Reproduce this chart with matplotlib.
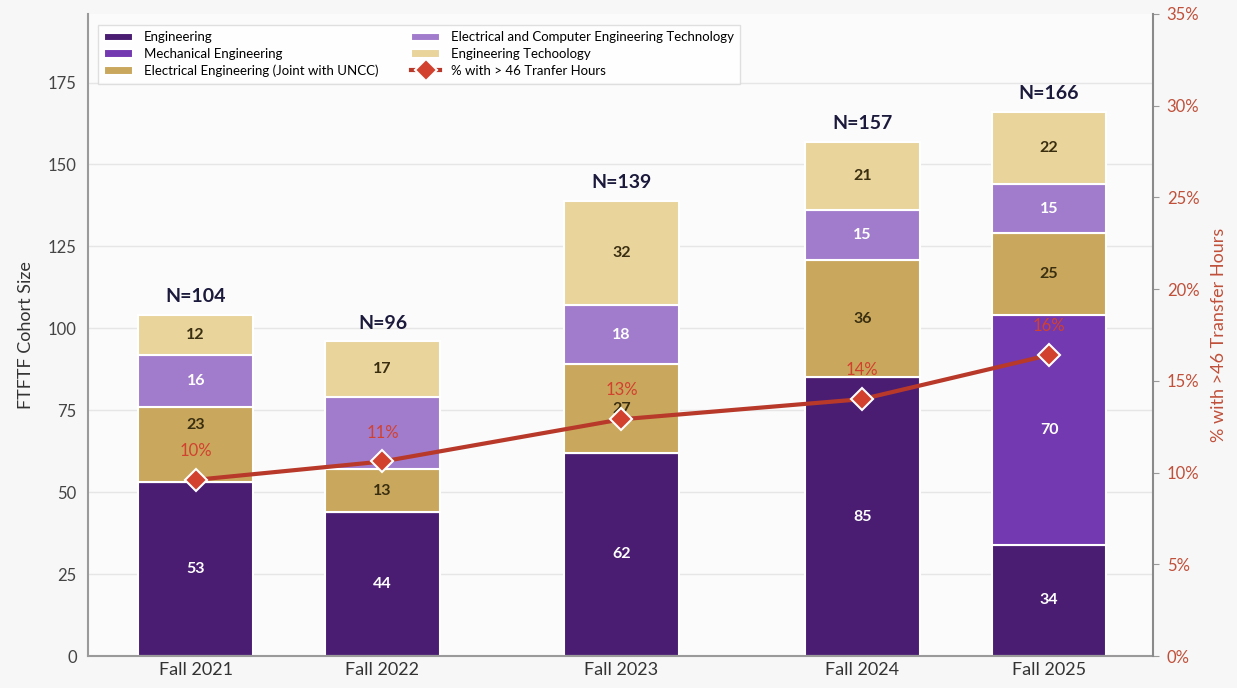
import numpy as np
import matplotlib.pyplot as plt

plt.rcParams['font.family'] = ['Lato', 'DejaVu Sans']

# cohort data
terms = ['Fall 2021', 'Fall 2022', 'Fall 2023', 'Fall 2024', 'Fall 2025']
engineering = [53, 44, 62, 85, 34]
mechanical = [0, 0, 0, 0, 70]
electrical = [23, 13, 27, 36, 25]
ecet = [16, 22, 18, 15, 15]
eng_tech = [12, 17, 32, 21, 22]
pct_transfer = [9.6, 10.6, 12.9, 14.0, 16.4]

series = [
    ('Engineering', engineering, '#4a1d72', 'white'),
    ('Mechanical Engineering', mechanical, '#7339b0', 'white'),
    ('Electrical Engineering (Joint with UNCC)', electrical, '#c9a85e', '#3a2e10'),
    ('Electrical and Computer Engineering Technology', ecet, '#a27ccc', 'white'),
    ('Engineering Techoology', eng_tech, '#e9d49c', '#3a2e10'),
]
# segments printed without a number
no_label = {(3, 1)}
# segments whose number sits higher, clear of the percent label
raised = {(2, 0): 0.76}

x = np.array([0, 1, 2.28, 3.57, 4.57])
width = 0.615

fig = plt.figure(figsize=(12.37, 6.88), dpi=100, facecolor='#f7f7f7')
ax = fig.add_axes([0.071, 0.0465, 0.861, 0.9335])
ax.set_facecolor('#fbfbfb')

bottom = np.zeros(len(terms))
handles = []
for i, (name, vals, color, tcol) in enumerate(series):
    vals = np.array(vals, dtype=float)
    bars = ax.bar(x, vals, width, bottom=bottom, color=color,
                  edgecolor='white', linewidth=1.5, label=name, zorder=2)
    handles.append(bars)
    for j, v in enumerate(vals):
        if v > 0 and (i, j) not in no_label:
            frac = raised.get((i, j), 0.5)
            ax.text(x[j], bottom[j] + v * frac, f'{int(v)}', ha='center', va='center',
                    color=tcol, fontsize=11.5, fontweight='bold', zorder=3)
    bottom += vals

for xi, tot in zip(x, bottom):
    ax.text(xi, tot + 3, f'N={int(tot)}', ha='center', va='bottom',
            fontsize=14, fontweight='bold', color='#1c1a3c')

ax.set_xlim(-0.578, 5.126)
ax.set_ylim(0, 196)
ax.set_yticks(np.arange(0, 176, 25))
ax.set_xticks(x)
ax.set_xticklabels(terms, fontsize=13, color='#333333')
ax.tick_params(axis='y', labelsize=12, colors='#444444', length=0, pad=8)
ax.tick_params(axis='x', length=0, pad=4)
ax.set_ylabel('FTFTF Cohort Size', fontsize=13, color='#333333', labelpad=10)
ax.grid(axis='y', color='#e6e6e6', linewidth=1, zorder=0)
ax.set_axisbelow(True)
for side in ['top', 'right']:
    ax.spines[side].set_visible(False)
for side in ['left', 'bottom']:
    ax.spines[side].set_color('#9a9a9a')
    ax.spines[side].set_linewidth(1.5)

# transfer-hours share on the secondary axis
ax2 = ax.twinx()
ax2.set_ylim(0, 35)
ax2.set_yticks(np.arange(0, 36, 5))
ax2.set_yticklabels([f'{t}%' for t in range(0, 36, 5)])
ax2.tick_params(axis='y', labelsize=12, colors='#c0503a', length=4, pad=6)
ax2.tick_params(axis='y', color='#9a9a9a')
for side in ['top', 'left', 'bottom']:
    ax2.spines[side].set_visible(False)
ax2.spines['right'].set_color('#8a8a8a')
ax2.spines['right'].set_linewidth(1.5)
ax2.set_ylabel('% with >46 Transfer Hours', fontsize=13, color='#c0503a', labelpad=8)
line, = ax2.plot(x, pct_transfer, color='#b8392a', linewidth=3, marker='D',
                 markersize=11, markerfacecolor='#d2412e', markeredgecolor='white',
                 markeredgewidth=1.5, label='% with > 46 Tranfer Hours', zorder=4)
for xi, p in zip(x, pct_transfer):
    ax2.annotate(f'{p:.0f}%', (xi, p), xytext=(0, 15), textcoords='offset points',
                 ha='center', va='bottom', fontsize=12, color='#d2412e')

leg = ax.legend(handles + [line], [h.get_label() for h in handles] + [line.get_label()],
                loc='upper left', bbox_to_anchor=(0.003, 0.993), ncol=2,
                fontsize=9.5, frameon=True, fancybox=False, edgecolor='#d8d8d8',
                handlelength=2.2, handleheight=0.6, columnspacing=2.5,
                labelspacing=0.35, borderpad=0.5)
leg.get_frame().set_linewidth(1)
leg.set_zorder(5)

fig.savefig('out.png', dpi=100, facecolor=fig.get_facecolor())
